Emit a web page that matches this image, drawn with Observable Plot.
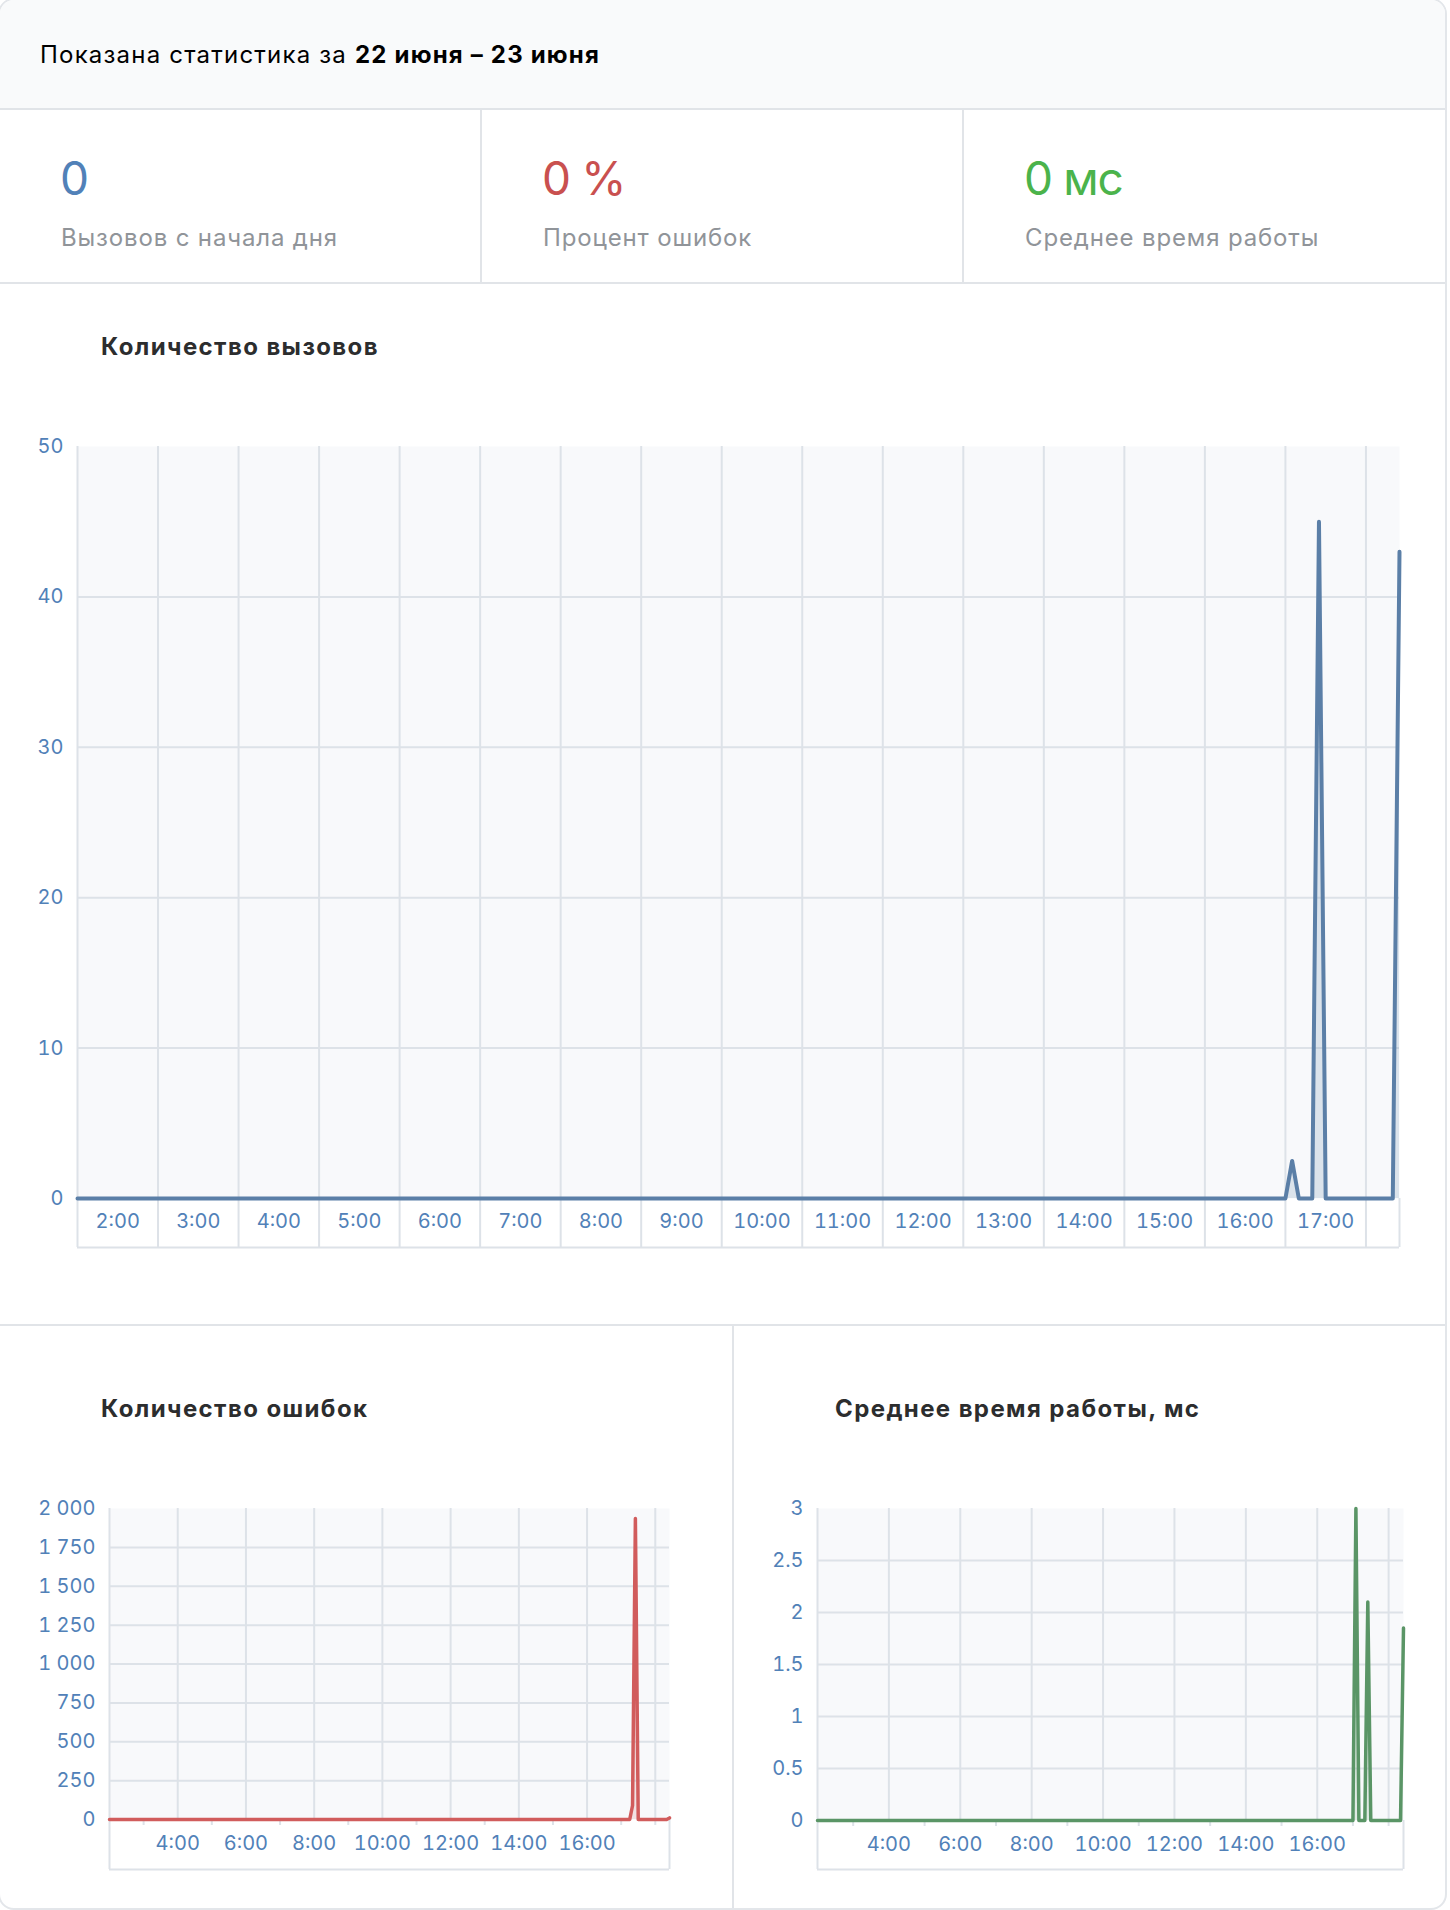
<!DOCTYPE html>
<html><head><meta charset="utf-8">
<script src="https://cdn.jsdelivr.net/npm/d3@7"></script>
<script src="https://cdn.jsdelivr.net/npm/@observablehq/plot@0.6"></script>
<style>
html,body{margin:0;padding:0;background:#fff;width:1450px;height:1910px;overflow:hidden;font-family:Inter,Roboto,"Helvetica Neue",Arial,sans-serif;}
#card{position:absolute;left:-2px;top:-2px;width:1449px;height:1912px;box-sizing:border-box;border:2px solid #e3e6ea;border-radius:16px;overflow:hidden;background:#fff;}
.abs{position:absolute;white-space:nowrap;}
.hdr{left:0;top:0;width:100%;height:108px;background:#f9fafb;border-bottom:2px solid #e1e4e8;}
.hdrtext{left:40px;top:41px;font-size:24px;line-height:28px;color:#000;letter-spacing:1.2px;}
.num{font-size:46px;line-height:46px;top:155px;letter-spacing:-1.3px;}
.lbl{font-size:24px;line-height:28px;top:224px;color:#909499;letter-spacing:0.85px;}
.title{font-size:24px;line-height:28px;font-weight:bold;color:#2c2d2e;letter-spacing:1.4px;}
.hline{left:0;width:100%;height:2px;background:#e1e4e8;}
.vline{width:2px;background:#e1e4e8;}
.chart svg{max-width:none !important;display:block;}
</style></head><body>
<div id="card">
  <div class="abs hdr"></div>
  <div class="abs hdrtext">Показана статистика за <b>22 июня – 23 июня</b></div>
  <div class="abs vline" style="left:480px;top:110px;height:172px"></div>
  <div class="abs vline" style="left:962px;top:110px;height:172px"></div>
  <div class="abs hline" style="top:282px"></div>
  <div class="abs num" style="left:60px;color:#5181b8">0</div>
  <div class="abs num" style="left:542px;color:#c9504f">0 %</div>
  <div class="abs num" style="left:1024px;color:#4bb34b">0 мс</div>
  <div class="abs lbl" style="left:61px">Вызовов с начала дня</div>
  <div class="abs lbl" style="left:543px">Процент ошибок</div>
  <div class="abs lbl" style="left:1025px">Среднее время работы</div>
  <div class="abs title" style="left:101px;top:333px">Количество вызовов</div>
  <div class="abs hline" style="top:1324px"></div>
  <div class="abs vline" style="left:732px;top:1326px;height:600px"></div>
  <div class="abs title" style="left:101px;top:1395px">Количество ошибок</div>
  <div class="abs title" style="left:835px;top:1395px">Среднее время работы, мс</div>
  <div class="abs chart" id="mainChart" style="left:0;top:400px;width:1450px"></div>
  <div class="abs chart" id="errChart" style="left:0;top:1460px;width:733px"></div>
  <div class="abs chart" id="timeChart" style="left:733px;top:1460px;width:717px"></div>
</div>
<script>
// ---- data ----
const domainStart = "2:00";
const domainEnd = "18:25";

// Количество вызовов
const callTimes  = ["2:00", "17:00", "17:05", "17:10", "17:20", "17:25", "17:30", "18:20", "18:25"];
const callValues = [0, 0, 2.5, 0, 0, 45, 0, 0, 43];
const callTicks = [0, 10, 20, 30, 40, 50];
const mainHourLabels = ["2:00","3:00","4:00","5:00","6:00","7:00","8:00","9:00","10:00","11:00","12:00","13:00","14:00","15:00","16:00","17:00"];

// Количество ошибок
const errTimes  = ["2:00", "17:15", "17:20", "17:25", "17:30", "18:20", "18:25"];
const errValues = [0, 0, 90, 1936, 0, 0, 10];
const errTicks = [0, 250, 500, 750, 1000, 1250, 1500, 1750, 2000];
const errTickLabels = ["0", "250", "500", "750", "1\u00a0000", "1\u00a0250", "1\u00a0500", "1\u00a0750", "2\u00a0000"];

// Среднее время работы, мс
const timeTimes  = ["2:00", "17:00", "17:05", "17:10", "17:20", "17:25", "17:30", "18:20", "18:25"];
const timeValues = [0, 0, 3, 0, 0, 2.1, 0, 0, 1.85];
const timeTicks = [0, 0.5, 1, 1.5, 2, 2.5, 3];
const timeTickLabels = ["0", "0.5", "1", "1.5", "2", "2.5", "3"];

const bottomHourLabels = ["4:00","6:00","8:00","10:00","12:00","14:00","16:00"];

// ---- helpers ----
const parseTime = d3.utcParse("%H:%M");
const t0 = parseTime(domainStart), t1 = parseTime(domainEnd);
const series = (times, values) => times.map((t, i) => ({t: parseTime(t), v: values[i]}));

const bg = "#f8f9fb", grid = "#dde2e8", axisColor = "#5181b8";
const baseStyle = {fontFamily: "Inter, Roboto, 'Helvetica Neue', Arial, sans-serif", fontSize: "20px", background: "transparent", overflow: "visible", maxWidth: "none"};

const hours = d3.utcHour.range(t0, d3.utcMinute.offset(t1, 1));           // 2:00 .. 18:00
const hoursWithEnd = hours.concat([t1]);

// ---- main chart ----
const mainLabelPos = mainHourLabels.map(l => d3.utcMinute.offset(parseTime(l), 30));
const mainLabelMap = new Map(mainLabelPos.map((p, i) => [+p, mainHourLabels[i]]));
const callData = series(callTimes, callValues);

const mainPlot = Plot.plot({
  width: 1450, height: 860,
  marginLeft: 77, marginRight: 51, marginTop: 46, marginBottom: 62,
  style: baseStyle,
  x: {type: "utc", domain: [t0, t1]},
  y: {domain: [0, 50]},
  marks: [
    Plot.frame({fill: bg, stroke: "none"}),
    Plot.gridY(callTicks.filter(d => d > 0 && d < 50), {stroke: grid, strokeOpacity: 1, strokeWidth: 2}),
    Plot.gridX(hours, {stroke: grid, strokeOpacity: 1, strokeWidth: 2}),
    Plot.axisX(hoursWithEnd, {tickSize: 49, stroke: grid, strokeWidth: 2, fill: "none", label: null}),
    Plot.ruleY([0], {dy: 49, stroke: grid, strokeWidth: 2}),
    Plot.axisX(mainLabelPos, {tickSize: 0, tickPadding: 15, tickFormat: d => mainLabelMap.get(+d), fill: axisColor, label: null}),
    Plot.axisY(callTicks, {tickSize: 0, tickPadding: 14, fill: axisColor, label: null}),
    Plot.areaY(callData, {x: "t", y: "v", fill: "#5b7fa7", fillOpacity: 0.18}),
    Plot.lineY(callData, {x: "t", y: "v", stroke: "#5b7fa7", strokeWidth: 4})
  ]
});
document.getElementById("mainChart").appendChild(mainPlot);

// ---- bottom charts ----
const evenHours = hours.filter(h => h.getUTCHours() % 2 === 0);
const minorHours = hours.filter(h => h.getUTCHours() % 2 === 1 || h.getUTCHours() === 18);
const bottomLabelPos = bottomHourLabels.map(l => parseTime(l));
const bottomLabelMap = new Map(bottomLabelPos.map((p, i) => [+p, bottomHourLabels[i]]));

function smallChart({data, ticks, tickLabels, top, color, width, marginLeft, marginRight, marginBottom, boxDepth}) {
  const labelMap = new Map(ticks.map((t, i) => [t, tickLabels[i]]));
  return Plot.plot({
    width, height: 420,
    marginLeft, marginRight, marginTop: 48, marginBottom,
    style: baseStyle,
    x: {type: "utc", domain: [t0, t1]},
    y: {domain: [0, top]},
    marks: [
      Plot.frame({fill: bg, stroke: "none"}),
      Plot.gridY(ticks.filter(d => d > 0 && d < top), {stroke: grid, strokeOpacity: 1, strokeWidth: 2}),
      Plot.gridX(evenHours, {stroke: grid, strokeOpacity: 1, strokeWidth: 2}),
      Plot.axisX([t0, t1], {tickSize: boxDepth, stroke: grid, strokeWidth: 2, fill: "none", label: null}),
      Plot.axisX(minorHours, {tickSize: 6, stroke: grid, strokeWidth: 2, fill: "none", label: null}),
      Plot.ruleY([0], {dy: boxDepth, stroke: grid, strokeWidth: 2}),
      Plot.axisX(bottomLabelPos, {tickSize: 0, tickPadding: 16, tickFormat: d => bottomLabelMap.get(+d), fill: axisColor, label: null}),
      Plot.axisY(ticks, {tickSize: 0, tickPadding: 14, tickFormat: d => labelMap.get(d), fill: axisColor, label: null}),
      Plot.areaY(data, {x: "t", y: "v", fill: color, fillOpacity: 0.15}),
      Plot.lineY(data, {x: "t", y: "v", stroke: color, strokeWidth: 3.5})
    ]
  });
}

document.getElementById("errChart").appendChild(smallChart({
  data: series(errTimes, errValues), ticks: errTicks, tickLabels: errTickLabels, top: 2000,
  color: "#d15c5c", width: 733, marginLeft: 109, marginRight: 64, marginBottom: 61, boxDepth: 50
}));
document.getElementById("timeChart").appendChild(smallChart({
  data: series(timeTimes, timeValues), ticks: timeTicks, tickLabels: timeTickLabels, top: 3,
  color: "#5a9566", width: 717, marginLeft: 84, marginRight: 47, marginBottom: 60, boxDepth: 49
}));
</script>
</body></html>
